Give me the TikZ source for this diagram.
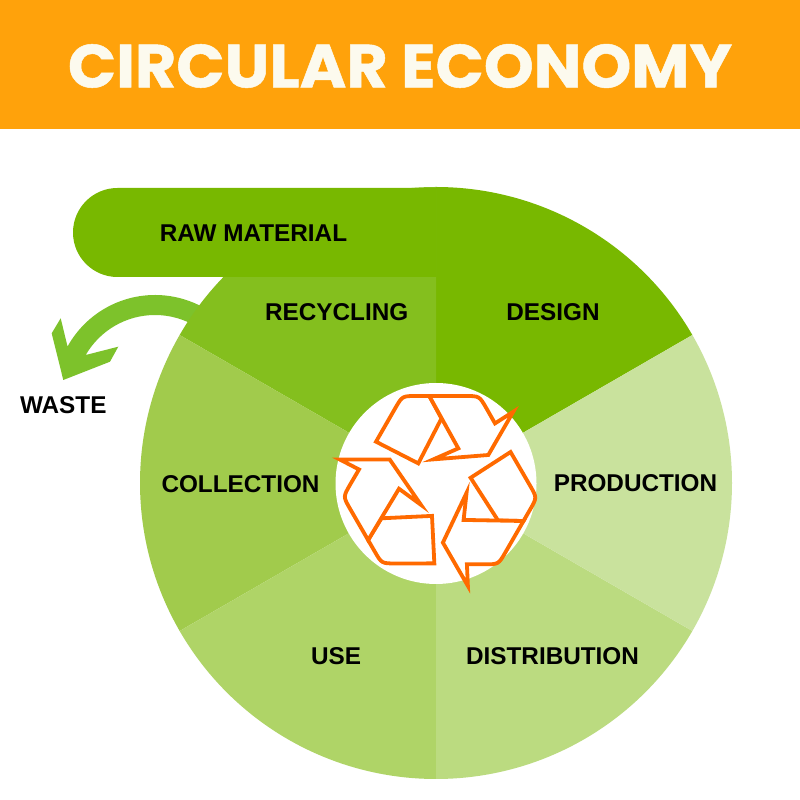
\documentclass[tikz,border=0pt]{standalone}
\usepackage{fontspec}
\setmainfont{Liberation Sans}
\newfontfamily\titlefont[BoldFeatures={FakeBold=0.8}]{Poppins}
\usetikzlibrary{calc}
\definecolor{banner}{HTML}{FFA20B}
\definecolor{titlewhite}{HTML}{FCFAEE}
\definecolor{cdesign}{HTML}{78B800}
\definecolor{crecyc}{HTML}{84BF1E}
\definecolor{ccollect}{HTML}{A1CB4C}
\definecolor{cuse}{HTML}{AFD467}
\definecolor{cdistr}{HTML}{BBDB80}
\definecolor{cprod}{HTML}{C9E29D}
\definecolor{cwaste}{HTML}{7DC22B}
\definecolor{symorange}{HTML}{FF6A00}
\begin{document}
\begin{tikzpicture}[x=1pt,y=1pt,
  lbl/.style={font=\bfseries\fontsize{24.3}{28}\selectfont, text=black, inner sep=0pt},
  titlestyle/.style={font=\titlefont\bfseries\fontsize{61}{70}\selectfont, text=titlewhite, inner sep=0pt},
  sym/.style={draw=symorange, line width=3.8pt, fill=white, line join=miter}]
\useasboundingbox (0,0) rectangle (800,800);
\fill[white] (0,0) rectangle (800,800);
% banner
\fill[banner] (0,671) rectangle (800,800);
\node[titlestyle] (title) at (400,734) {\scalebox{1.04}[1]{CIRCULAR ECONOMY}};
% waste arrow
\coordinate (cw) at (155,405);
\fill[cwaste] ($(cw)+(58:100pt)$) arc[start angle=58,end angle=151,radius=100pt]
  -- (60.7,481.7) -- (51.7,466.7) -- (63.3,420) -- (110,438.3) -- (118.3,453.3)
  -- ($(cw)+(150:80pt)$) arc[start angle=150,end angle=58,radius=80pt] -- cycle;
% sectors
\coordinate (c) at (436,317);
\fill[cdesign]  (c) -- ++(30:296pt)  arc[start angle=30,end angle=90,radius=296pt] -- cycle;
\fill[crecyc]   (c) -- ++(90:296pt)  arc[start angle=90,end angle=150,radius=296pt] -- cycle;
\fill[ccollect] (c) -- ++(150:296pt) arc[start angle=150,end angle=210,radius=296pt] -- cycle;
\fill[cuse]     (c) -- ++(210:296pt) arc[start angle=210,end angle=270,radius=296pt] -- cycle;
\fill[cdistr]   (c) -- ++(270:296pt) arc[start angle=270,end angle=330,radius=296pt] -- cycle;
\fill[cprod]    (c) -- ++(330:296pt) arc[start angle=330,end angle=390,radius=296pt] -- cycle;
% raw material band
\fill[cdesign] (436,523) -- (117.5,523) arc[start angle=270,end angle=90,radius=44.5pt] -- (436,612) -- cycle;
% inner white circle
\fill[white] (436,316.5) circle[radius=100.5pt];
% recycling symbol
\foreach \r in {0,-120,120}{
\begin{scope}[shift={(440.3,314.3)}, rotate=\r]
\path[sym] (-64.3,44) -- (-45,77.6) .. controls (-38,89.7) .. (-24,89.7) -- (-11,89.7) -- (1.2,67.3) -- (-22,22.3) -- cycle;
\path[sym] (-11,89.7) -- (25,89.7) .. controls (39,89.7) .. (46,77.6) -- (54.7,62.3) -- (73,74) -- (48,30.7) -- (-7,26.3) -- (18,37.3) -- cycle;
\end{scope}
}
% labels
\node[lbl] (raw) at (253.5,566.7) {RAW MATERIAL};
\node[lbl] (recycling) at (336.7,488) {RECYCLING};
\node[lbl] (design) at (553,488) {DESIGN};
\node[lbl] (production) at (635.5,316.5) {PRODUCTION};
\node[lbl] (collection) at (240.5,316) {COLLECTION};
\node[lbl] (use) at (336,144) {USE};
\node[lbl] (distribution) at (552.5,144) {DISTRIBUTION};
\node[lbl] (waste) at (63.3,395) {WASTE};
\end{tikzpicture}
\end{document}
